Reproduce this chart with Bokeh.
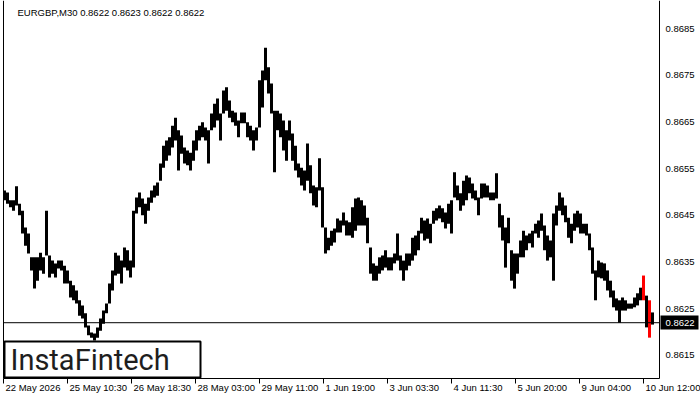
from bokeh.plotting import figure
from bokeh.models import Range1d, ColumnDataSource
from bokeh.core.properties import value
from bokeh.embed import file_html
from bokeh.resources import INLINE

symbol_title = "EURGBP,M30  0.8622 0.8623 0.8622 0.8622"
time_labels = ["22 May 2026", "25 May 10:30", "26 May 18:30", "28 May 03:00", "29 May 11:00",
               "1 Jun 19:00", "3 Jun 03:30", "4 Jun 11:30", "5 Jun 20:00", "9 Jun 04:00", "10 Jun 12:00"]
price_ticks = [0.8615, 0.8625, 0.8635, 0.8645, 0.8655, 0.8665, 0.8675, 0.8685]
last_price = 0.8622
brand = "InstaFintech"
red_bars = [213, 215]

highs = [
    0.86503, 0.86499, 0.86482, 0.86482, 0.86512, 0.86475, 0.86460, 0.86424, 0.86411, 0.86360,
    0.86360, 0.86360, 0.86370, 0.86360, 0.86460, 0.86364, 0.86353, 0.86347, 0.86353, 0.86353,
    0.86342, 0.86332, 0.86310, 0.86300, 0.86289, 0.86268, 0.86257, 0.86240, 0.86214, 0.86199,
    0.86197, 0.86210, 0.86229, 0.86246, 0.86261, 0.86304, 0.86332, 0.86370, 0.86364, 0.86353,
    0.86381, 0.86375, 0.86353, 0.86460, 0.86488, 0.86499, 0.86486, 0.86475, 0.86488, 0.86503,
    0.86514, 0.86520, 0.86561, 0.86599, 0.86610, 0.86617, 0.86642, 0.86659, 0.86632, 0.86621,
    0.86595, 0.86589, 0.86584, 0.86610, 0.86632, 0.86642, 0.86649, 0.86638, 0.86632, 0.86668,
    0.86689, 0.86700, 0.86668, 0.86717, 0.86724, 0.86696, 0.86674, 0.86670, 0.86653, 0.86670,
    0.86670, 0.86649, 0.86642, 0.86632, 0.86638, 0.86739, 0.86760, 0.86809, 0.86767, 0.86732,
    0.86674, 0.86674, 0.86668, 0.86653, 0.86632, 0.86653, 0.86625, 0.86599, 0.86561, 0.86552,
    0.86546, 0.86604, 0.86557, 0.86514, 0.86510, 0.86572, 0.86510, 0.86424, 0.86402, 0.86417,
    0.86422, 0.86443, 0.86439, 0.86456, 0.86439, 0.86435, 0.86467, 0.86486, 0.86488, 0.86482,
    0.86471, 0.86445, 0.86381, 0.86347, 0.86342, 0.86360, 0.86364, 0.86375, 0.86360, 0.86360,
    0.86368, 0.86411, 0.86364, 0.86353, 0.86368, 0.86368, 0.86402, 0.86407, 0.86417, 0.86445,
    0.86439, 0.86443, 0.86432, 0.86460, 0.86465, 0.86471, 0.86465, 0.86456, 0.86475, 0.86482,
    0.86542, 0.86514, 0.86497, 0.86524, 0.86535, 0.86531, 0.86518, 0.86503, 0.86488, 0.86518,
    0.86518, 0.86514, 0.86499, 0.86499, 0.86540, 0.86475, 0.86450, 0.86424, 0.86445, 0.86375,
    0.86368, 0.86368, 0.86396, 0.86417, 0.86407, 0.86411, 0.86417, 0.86432, 0.86439, 0.86454,
    0.86428, 0.86407, 0.86396, 0.86454, 0.86471, 0.86499, 0.86488, 0.86471, 0.86445, 0.86432,
    0.86454, 0.86460, 0.86454, 0.86432, 0.86432, 0.86411, 0.86381, 0.86332, 0.86353, 0.86349,
    0.86347, 0.86332, 0.86310, 0.86289, 0.86272, 0.86268, 0.86274, 0.86268, 0.86261, 0.86261,
    0.86274, 0.86283, 0.86295, 0.86321, 0.86278, 0.86268, 0.86242,
]

lows = [
    0.86482, 0.86475, 0.86467, 0.86460, 0.86471, 0.86450, 0.86411, 0.86385, 0.86368, 0.86332,
    0.86293, 0.86310, 0.86332, 0.86325, 0.86364, 0.86317, 0.86325, 0.86317, 0.86336, 0.86332,
    0.86304, 0.86304, 0.86274, 0.86268, 0.86261, 0.86235, 0.86229, 0.86210, 0.86193, 0.86188,
    0.86182, 0.86188, 0.86203, 0.86218, 0.86240, 0.86261, 0.86289, 0.86321, 0.86325, 0.86304,
    0.86338, 0.86332, 0.86317, 0.86338, 0.86454, 0.86467, 0.86450, 0.86432, 0.86460, 0.86477,
    0.86488, 0.86492, 0.86524, 0.86552, 0.86567, 0.86578, 0.86595, 0.86610, 0.86546, 0.86582,
    0.86561, 0.86557, 0.86546, 0.86567, 0.86589, 0.86610, 0.86617, 0.86610, 0.86561, 0.86632,
    0.86638, 0.86653, 0.86610, 0.86668, 0.86674, 0.86659, 0.86649, 0.86642, 0.86617, 0.86647,
    0.86647, 0.86617, 0.86610, 0.86589, 0.86610, 0.86638, 0.86681, 0.86739, 0.86711, 0.86668,
    0.86542, 0.86632, 0.86617, 0.86589, 0.86567, 0.86610, 0.86567, 0.86546, 0.86531, 0.86514,
    0.86503, 0.86524, 0.86497, 0.86471, 0.86467, 0.86503, 0.86424, 0.86368, 0.86375, 0.86385,
    0.86392, 0.86413, 0.86413, 0.86428, 0.86407, 0.86407, 0.86402, 0.86417, 0.86428, 0.86428,
    0.86428, 0.86390, 0.86325, 0.86310, 0.86310, 0.86325, 0.86332, 0.86338, 0.86332, 0.86332,
    0.86347, 0.86353, 0.86332, 0.86310, 0.86332, 0.86342, 0.86353, 0.86364, 0.86375, 0.86411,
    0.86396, 0.86400, 0.86390, 0.86432, 0.86439, 0.86443, 0.86435, 0.86422, 0.86432, 0.86411,
    0.86488, 0.86482, 0.86460, 0.86471, 0.86482, 0.86497, 0.86486, 0.86482, 0.86450, 0.86486,
    0.86488, 0.86488, 0.86482, 0.86482, 0.86486, 0.86424, 0.86396, 0.86338, 0.86390, 0.86310,
    0.86293, 0.86325, 0.86360, 0.86360, 0.86375, 0.86390, 0.86381, 0.86411, 0.86402, 0.86417,
    0.86375, 0.86353, 0.86360, 0.86310, 0.86428, 0.86460, 0.86450, 0.86435, 0.86402, 0.86390,
    0.86417, 0.86424, 0.86411, 0.86411, 0.86407, 0.86375, 0.86325, 0.86268, 0.86317, 0.86315,
    0.86310, 0.86289, 0.86274, 0.86253, 0.86246, 0.86220, 0.86246, 0.86246, 0.86250, 0.86250,
    0.86253, 0.86257, 0.86268, 0.86268, 0.86210, 0.86188, 0.86216,
]

# ---- layout calibration (pixel positions of the picture -> data space) ----
W, H = 700, 400
PX = 0.001 / 46.7            # price per pixel
REF_PRICE, REF_Y = 0.8685, 28
LEFT_PX = 3                  # chart area left edge


def py(y):
    return REF_PRICE - (y - REF_Y) * PX


def dx(x):
    return x - LEFT_PX


BARS_PER_POINT = 3           # each drawn bar aggregates three M30 bars
BARS_PER_LABEL = 64          # M30 bars between time labels
X0, X1 = dx(3), dx(659)
Y_BOT, Y_TOP = py(378), py(0)

FONT = value("Liberation Sans")
FSIZE = value("9.5px")

n = len(highs)
xs = [1 + BARS_PER_POINT * i for i in range(n)]
colors = ["#ff0000" if i in red_bars else "#000000" for i in range(n)]
src = ColumnDataSource(dict(x=xs, hi=highs, lo=lows, c=colors))

p = figure(width=W, height=H, output_backend="svg", toolbar_location=None,
           x_range=Range1d(dx(0), dx(W)), y_range=Range1d(py(H), py(0)),
           x_axis_location=None, y_axis_location=None, min_border=0)
p.outline_line_color = None
p.grid.visible = False
p.background_fill_color = "white"
p.border_fill_color = "white"

# price bars
p.segment(x0="x", y0="lo", x1="x", y1="hi", source=src, line_color="c", line_width=3)

# chart frame: left, right and bottom border
p.segment(x0=[X0, X1, X0], y0=[Y_BOT, Y_BOT, Y_BOT], x1=[X0, X1, X1], y1=[Y_TOP, Y_TOP, Y_BOT],
          line_color="black", line_width=1)

# time axis: ticks and labels
tick_pos = [BARS_PER_LABEL * k for k in range(len(time_labels))]
p.segment(x0=tick_pos, x1=tick_pos, y0=[Y_BOT] * len(tick_pos), y1=[py(383)] * len(tick_pos),
          line_color="black", line_width=1)
p.text(x=[t + 2 for t in tick_pos], y=[py(387)] * len(tick_pos), text=time_labels,
       text_align="left", text_baseline="middle", text_font=FONT, text_font_size=FSIZE,
       text_color="black")

# price axis labels
p.text(x=[dx(665)] * len(price_ticks), y=price_ticks, text=[f"{t:.4f}" for t in price_ticks],
       text_align="left", text_baseline="middle", text_font=FONT, text_font_size=FSIZE,
       text_color="black")

# current price line and marker
p.segment(x0=[X0], x1=[X1], y0=[last_price], y1=[last_price], line_color="black", line_width=1)
p.quad(left=[dx(660)], right=[dx(698)], top=[py(315)], bottom=[py(329)],
       fill_color="black", line_color=None)
p.text(x=[dx(665)], y=[last_price], text=[f"{last_price:.4f}"],
       text_align="left", text_baseline="middle", text_font=FONT, text_font_size=FSIZE,
       text_color="white")

# title
p.text(x=[dx(17)], y=[py(12)], text=[symbol_title], text_align="left", text_baseline="middle",
       text_font=FONT, text_font_size=FSIZE, text_color="black")

# brand box
p.quad(left=[dx(4)], right=[dx(200)], top=[py(341)], bottom=[py(377)],
       fill_color="white", line_color="black", line_width=2)
p.text(x=[dx(10)], y=[py(359)], text=[brand], text_align="left", text_baseline="middle",
       text_font=value("Roboto"), text_font_size=value("29px"), text_color="#1e1e1e")

open("out.html", "w").write(file_html(p, INLINE))
